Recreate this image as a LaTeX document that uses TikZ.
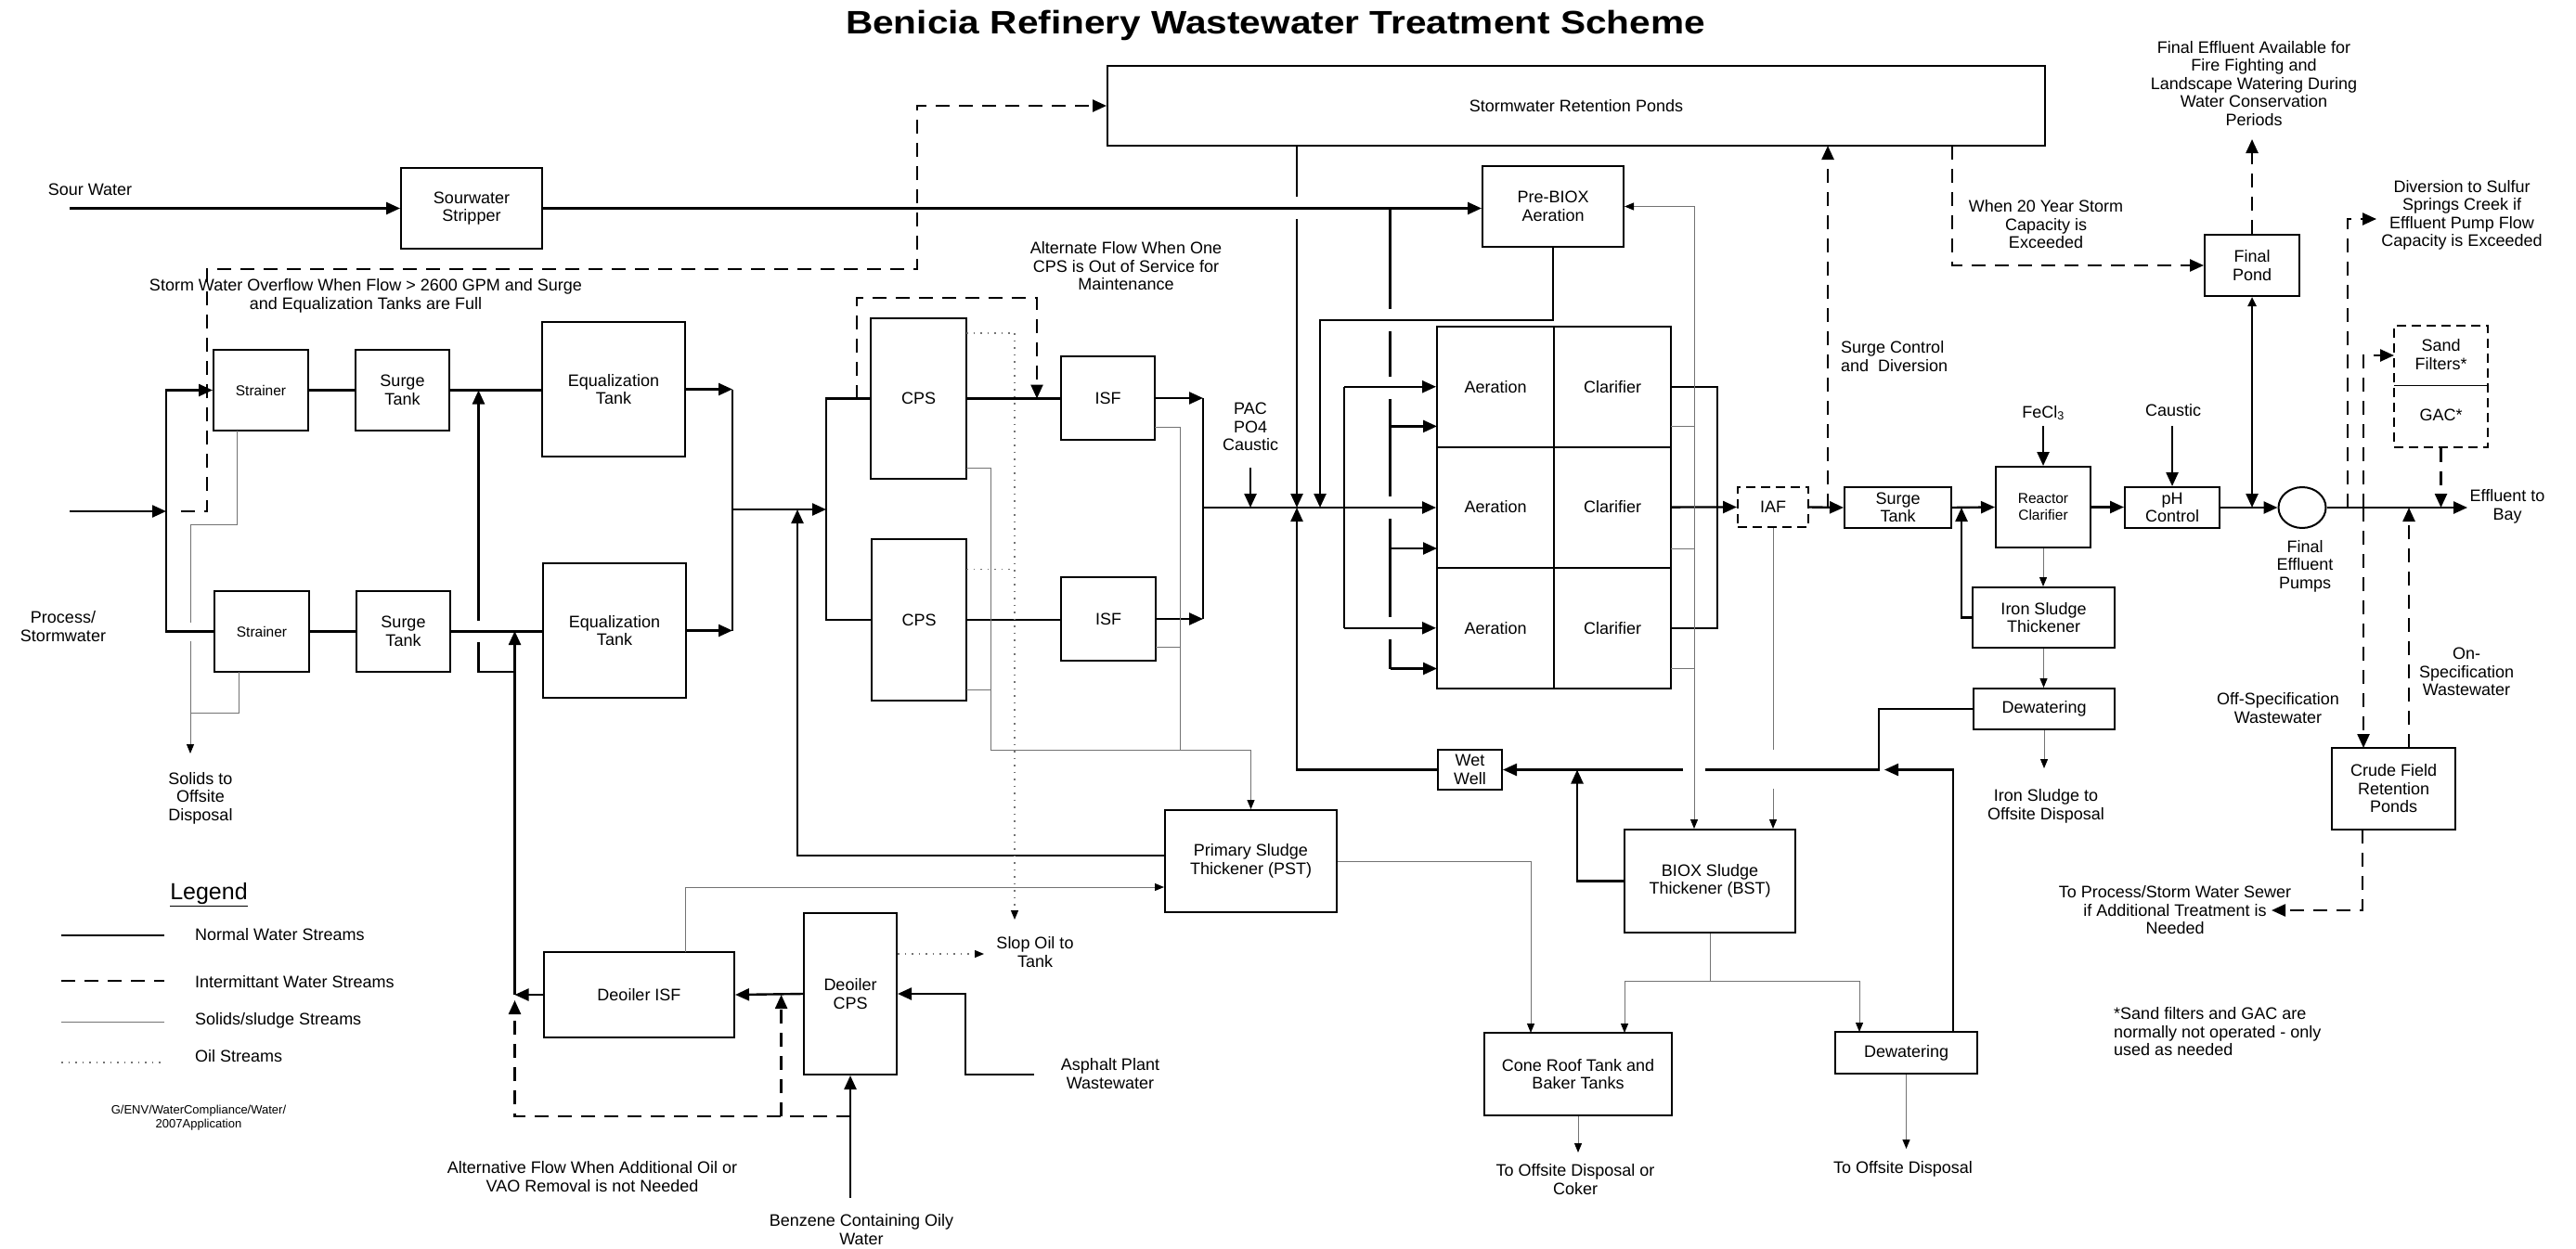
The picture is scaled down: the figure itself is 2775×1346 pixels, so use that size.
\documentclass[tikz,border=0pt]{standalone}
\usepackage{fontspec}
\usepackage{graphicx}
\setmainfont{Liberation Sans}
\usetikzlibrary{arrows.meta,calc,shapes.geometric}
\newcommand\fsn{\fontsize{18}{19.5}\selectfont}
\newcommand\fsm{\fontsize{15.5}{18}\selectfont}
\newcommand\mkbox[7][]{\node[box,minimum width={#5pt-#3pt},minimum height={#6pt-#4pt},#1] (#2) at ({(#3+#5)/2},{(#4+#6)/2}) {#7};}
\tikzset{
 box/.style={draw, line width=2pt, fill=white, inner sep=1pt, align=center, font=\fsn},
 dbox/.style={dash pattern=on 10pt off 6pt},
 wl/.style={line width=2.4pt},
 il/.style={line width=2.4pt, dash pattern=on 15pt off 10pt},
 sl/.style={line width=1pt, black!55},
 ol/.style={line width=1.2pt, black!55, dash pattern=on 1.5pt off 6pt},
 ar/.style={-{Triangle[length=15pt,width=13pt]}},
 sar/.style={-{Triangle[length=10pt,width=8pt,color=black]}},
 lbl/.style={align=center, font=\fsn, inner sep=0pt},
}
\begin{document}
\begin{tikzpicture}[x=1pt,y=-1pt]
\useasboundingbox (0,0) rectangle (2775,1346);
\fill[white] (0,0) rectangle (2775,1346);

% title
\node[font=\bfseries\fontsize{35}{40}\selectfont] (title) at (1374,27) {\scalebox{1.16}[1]{Benicia Refinery Wastewater Treatment Scheme}};

% boxes
\mkbox{strip}{432}{181}{584}{268}{Sourwater\\Stripper}
\mkbox[font=\fsm]{str1}{230}{377}{332}{464}{Strainer}
\mkbox[font=\fsm]{str2}{231}{637}{333}{724}{Strainer}
\mkbox{sg1}{383}{377}{484}{464}{Surge\\Tank}
\mkbox{sg2}{384}{637}{485}{724}{Surge\\Tank}
\mkbox{eq1}{584}{347}{738}{492}{Equalization\\Tank}
\mkbox{eq2}{585}{607}{739}{752}{Equalization\\Tank}
\mkbox{cps1}{938}{343}{1041}{516}{CPS}
\mkbox{cps2}{939}{581}{1041}{755}{CPS}
\mkbox{isf1}{1143}{384}{1244}{474}{ISF}
\mkbox{isf2}{1143}{622}{1245}{712}{ISF}
\mkbox{ponds}{1193}{71}{2203}{157}{Stormwater Retention Ponds}
\mkbox{pre}{1597}{179}{1749}{266}{Pre-BIOX\\Aeration}
\mkbox{aer1}{1548}{352}{1674}{481.5}{Aeration}
\mkbox{cla1}{1674}{352}{1800}{481.5}{Clarifier}
\mkbox{aer2}{1548}{481.5}{1674}{611.6}{Aeration}
\mkbox{cla2}{1674}{481.5}{1800}{611.6}{Clarifier}
\mkbox{aer3}{1548}{611.6}{1674}{742}{Aeration}
\mkbox{cla3}{1674}{611.6}{1800}{742}{Clarifier}
\mkbox[dbox]{iaf}{1872}{525}{1948}{568}{IAF}
\mkbox{sg3}{1987}{525}{2102}{569}{Surge\\Tank}
\mkbox[font=\fsm]{rc}{2150}{503}{2252}{590}{Reactor\\Clarifier}
\mkbox{ph}{2289}{525}{2391}{569}{pH\\Control}
\mkbox{fpond}{2375}{253}{2477}{319}{Final\\Pond}
\mkbox[dbox]{sand}{2579}{351}{2680}{482}{}
\mkbox{ist}{2125}{633}{2278}{698}{Iron Sludge\\Thickener}
\mkbox{idw}{2126}{742}{2278}{786}{Dewatering}
\mkbox{crude}{2512}{806}{2645}{894}{Crude Field\\Retention\\Ponds}
\mkbox{wet}{1549}{808}{1618}{851}{Wet\\Well}
\mkbox{bst}{1750}{894}{1934}{1005}{BIOX Sludge\\Thickener (BST)}
\mkbox{pst}{1255}{873}{1440}{983}{Primary Sludge\\Thickener (PST)}
\mkbox{cone}{1599}{1113}{1801}{1202}{Cone Roof Tank and\\Baker Tanks}
\mkbox{bdw}{1977}{1112}{2130}{1157}{Dewatering}
\mkbox{dis}{586}{1026}{791}{1118}{Deoiler ISF}
\mkbox{dcps}{866}{984}{966}{1158}{Deoiler\\CPS}
\node[draw, ellipse, line width=2pt, minimum width=51pt, minimum height=44pt, inner sep=0pt] (pump) at (2480,547) {};
\node[lbl] (sandt) at (2629.5,382) {Sand\\Filters*};
\node[lbl] (gact) at (2629.5,447) {GAC*};
\draw[line width=1pt] (2579,415.6) -- (2680,415.6);

% sour water
\coordinate (swin) at (75,224.5);
\draw[wl,ar] (swin) -- (strip.west);
\draw[wl,ar] (strip.east) -- (strip.east -| pre.west);

% process input
\coordinate (pin) at (75,551);
\coordinate (bus0) at (179,551);
\draw[wl,ar] (pin) -- (bus0);
\draw[wl,ar] (bus0) |- (str1.west);
\draw[wl] (bus0) |- (str2.west);
\draw[il,ar] (195,551) -- (223,551) -- (223,290) -| (988,114) -- (ponds.west);

\draw[wl] (str1.east) -- (sg1.west);
\draw[wl] (str2.east) -- (sg2.west);
\draw[wl] (sg1.east) -- (sg1.east -| eq1.west);
\draw[wl] (sg2.east) -- (sg2.east -| eq2.west);

\coordinate (ebus) at (789,549);
\draw[wl,ar] (eq1.east) -- (eq1.east -| ebus);
\draw[wl,ar] (eq2.east) -- (eq2.east -| ebus);
\draw[wl] (eq1.east -| ebus) -- (eq2.east -| ebus);
\coordinate (cbus) at (890,549);
\draw[wl,ar] (ebus) -- (cbus);
\draw[wl] (cps1.west) -| (cbus) |- (cps2.west);

% deoiler returns
\draw[wl,ar] (dis.west) -- (554.5,1072);
\draw[wl,ar] (554.5,1072) -- (554.5,680);
\draw[wl] (554.5,724) -- (515.5,724) -- (515.5,692);
\draw[wl,ar] (515.5,669) -- (515.5,420.5);
\draw[wl,ar] (dcps.west) -- (dis.east);
\draw[il,ar] (916,1203) -- (554.5,1203) -- (554.5,1078);
\draw[il,ar] (841.6,1203) -- (841.6,1072);
\draw[wl,ar] (916,1291) -- (dcps.south);
\draw[wl,ar] (1114,1158) -| (1040,1071) -- (dcps.east);
\draw[wl,ar] (1255,922) -| (859,549);

% CPS / ISF
\draw[il,ar] (923,429.5) -- (923,321) -| (1117,429.5);
\draw[wl] (cps1.east) -- (cps1.east -| isf1.west);
\draw[wl] (cps2.east) -- (cps2.east -| isf2.west);
\coordinate (ibus) at (1296,547);
\draw[wl,ar] (isf1.east) -- (isf1.east -| ibus);
\draw[wl,ar] (isf2.east) -- (isf2.east -| ibus);
\draw[wl] (isf1.east -| ibus) -- (isf2.east -| ibus);
\draw[wl,ar] (ibus) -- (ibus -| aer2.west);

\node[lbl] (pac) at (1347,460) {PAC\\PO4\\Caustic};
\draw[wl,ar] (1347,504) -- (1347,547);

\draw[wl] (1397,157) -- (1397,212);
\draw[wl,ar] (1397,236) -- (1397,547);
\draw[wl,ar] (wet.west) -| (1397,547);
\draw[wl,ar] (pre.south) |- (1422,345) -- (1422,547);

% stripper branch
\draw[wl] (1497.6,224.5) -- (1497.6,333);
\draw[wl] (1497.6,357) -- (1497.6,406);
\draw[wl] (1497.6,430) -- (1497.6,535);
\draw[wl] (1497.6,559) -- (1497.6,665);
\draw[wl] (1497.6,689) -- (1497.6,720.5);
\draw[wl,ar] (1497.6,459.4) -- (1548,459.4);
\draw[wl,ar] (1497.6,591) -- (1548,591);
\draw[wl,ar] (1497.6,720.5) -- (1548,720.5);

\draw[wl] (1448,416.75) -- (1448,676.8);
\draw[wl,ar] (1448,416.75) -- (aer1.west);
\draw[wl,ar] (1448,676.8) -- (aer3.west);

\draw[wl] (cla1.east) -| (1850,676.8) -- (cla3.east);
\draw[wl,ar] (cla2.east) -- (iaf.west);
\draw[wl,ar] (iaf.east) -- (sg3.west);
\draw[il,ar] (1969,547) -- (1969,157);
\draw[wl,ar] (sg3.east) -- (rc.west);
\draw[wl,ar] (ist.west) -| (2113,547);
\node[lbl] (fecl) at (2201,445) {FeCl\textsubscript{3}};
\draw[wl,ar] (2201,459) -- (rc.north);
\draw[wl,ar] (rc.east) -- (rc.east -| ph.west);
\node[lbl] (caus) at (2341,442) {Caustic};
\draw[wl,ar] (2340,459) -- (ph.north);
\draw[wl,ar] (ph.east) -- (pump.west);
\coordinate (bay) at (2658,547);
\draw[wl,ar] (pump.east) -- (bay);
\draw[wl,{Triangle[length=10pt,width=9pt]}-{Triangle[length=15pt,width=13pt]}] (fpond.south) -- (2426,547);
\draw[il,ar] (fpond.north) -- (2426,150);
\draw[il,ar] (2103,157) |- (fpond.west);

\draw[il,ar] (2529,547) |- (2560,236);
\coordinate (sandin) at (2579,383);
\draw[il,ar] (2546,547) |- (sandin);
\draw[il,ar] (2546,547) -- (2546,806);
\draw[il,ar] (sand.south) -- (sand.south |- bay);
\draw[il,ar] (2595,806) -- (2595,547);
\draw[il,ar] (2545,894) -- (2545,981) -- (2447,981);

% iron sludge
\draw[sl,sar] (rc.south) -- (rc.south |- ist.north);
\draw[sl,sar] (ist.south) -- (ist.south |- idw.north);
\draw[sl,sar] (idw.south) -- (2202,828);

% wet well line
\draw[wl] (idw.west) -| (2024,829.5) -- (1837,829.5);
\draw[wl,ar] (1813,829.5) -- (wet.east);
\draw[wl,ar] (2104,1112) |- (2030,829.5);
\draw[wl,ar] (bst.west) -| (1699,829.5);

% solids lines
\draw[sl] (255,464) -- (255,565) -- (205,565) -- (205,671);
\draw[sl,sar] (205,691) -- (205,812);
\draw[sl] (257,724) -- (257,768) -- (205,768);
\draw[sl] (1041,504.5) -- (1067,504.5) -- (1067,808.5);
\draw[sl] (1041,743.7) -- (1067,743.7);
\draw[sl] (1244,460.5) -- (1271,460.5) -- (1271,808.5);
\draw[sl] (1245,697.8) -- (1271,697.8);
\draw[sl,sar] (1067,808.5) -| (pst.north);
\draw[sl,sar] (pst.east) -| (1649,1113);
\draw[sl,sar] (738,1026) |- (pst.west |- 0,956);
\draw[sl] (1800,459.4) -- (1825,459.4);
\draw[sl] (1800,591) -- (1825,591);
\draw[sl] (1800,720.5) -- (1825,720.5);
\draw[sl,sar] (1825,459.4) |- (pre.east);
\draw[sl,sar] (1825,459.4) -- (1825,893);
\draw[sl] (iaf.south) -- (1910,808);
\draw[sl,sar] (1910,850) -- (1910,893);
\draw[sl] (bst.south) -- (1842,1057.6);
\draw[sl,sar] (1750,1057.6) -- (1750,1113);
\draw[sl,sar] (1750,1057.6) -| (2003,1112);
\draw[sl,sar] (cone.south) -- (1700,1242);
\draw[sl,sar] (bdw.south) -- (2053.5,1238);

% oil lines
\draw[ol] (1041,359) -- (1093,359);
\draw[ol] (1041,613.6) -- (1093,613.6);
\draw[ol,sar] (1093,359) -- (1093,991);
\draw[ol,sar] (dcps.east |- 0,1028) -- (1060,1028);

% labels
\node[lbl] (sourw) at (97,204) {Sour Water};
\node[lbl] (storm) at (394,319) {Storm Water Overflow When Flow > 2600 GPM and Surge\\and Equalization Tanks are Full};
\node[lbl] (procw) at (68,675) {Process/\\Stormwater};
\node[lbl] (solids) at (216,860) {Solids to\\Offsite\\Disposal};
\node[lbl] (altcps) at (1213,287) {Alternate Flow When One\\CPS is Out of Service for\\Maintenance};
\node[lbl, align=left, anchor=west] (surgec) at (1983,384) {Surge Control\\and\ \ Diversion};
\node[lbl] (yr20) at (2204,242) {When 20 Year Storm\\Capacity is\\Exceeded};
\node[lbl] (feff) at (2428,90) {Final Effluent Available for\\Fire Fighting and\\Landscape Watering During\\Water Conservation\\Periods};
\node[lbl] (divt) at (2652,232) {Diversion to Sulfur\\Springs Creek if\\Effluent Pump Flow\\Capacity is Exceeded};
\node[lbl] (efft) at (2701,546) {Effluent to\\Bay};
\node[lbl] (pumpt) at (2483,610) {Final\\Effluent\\Pumps};
\node[lbl] (offs) at (2454,763) {Off-Specification\\Wastewater};
\node[lbl] (ons) at (2657,724) {On-\\Specification\\Wastewater};
\node[lbl] (tops) at (2343,981) {To Process/Storm Water Sewer\\if Additional Treatment is\\Needed};
\node[lbl, align=left, anchor=west] (note) at (2277,1112) {*Sand filters and GAC are\\normally not operated - only\\used as needed};
\node[lbl] (irond) at (2204,869) {Iron Sludge to\\Offsite Disposal};
\node[lbl] (tod) at (2050,1260) {To Offsite Disposal};
\node[lbl] (todc) at (1697,1271) {To Offsite Disposal or\\Coker};
\node[lbl] (slop) at (1115,1026) {Slop Oil to\\Tank};
\node[lbl] (asph) at (1196,1157) {Asphalt Plant\\Wastewater};
\node[lbl] (altoil) at (638,1268) {Alternative Flow When Additional Oil or\\VAO Removal is not Needed};
\node[lbl] (benz) at (928,1325) {Benzene Containing Oily\\Water};

% legend
\node[font=\fontsize{25}{28}\selectfont, inner sep=0pt] (leg) at (225,964) {\underline{Legend}};
\draw[wl] (66,1008) -- (177,1008);
\draw[il] (66,1057) -- (177,1057);
\draw[sl] (66,1101) -- (177,1101);
\draw[ol] (66,1145) -- (177,1145);
\node[lbl, anchor=west] (l1) at (210,1007) {Normal Water Streams};
\node[lbl, anchor=west] (l2) at (210,1058) {Intermittant Water Streams};
\node[lbl, anchor=west] (l3) at (210,1099.5) {Solids/sludge Streams};
\node[lbl, anchor=west] (l4) at (210,1138) {Oil Streams};
\node[lbl, font=\fontsize{13}{15}\selectfont] (path) at (214,1205) {G/ENV/WaterCompliance/Water/\\2007Application};
\end{tikzpicture}
\end{document}
